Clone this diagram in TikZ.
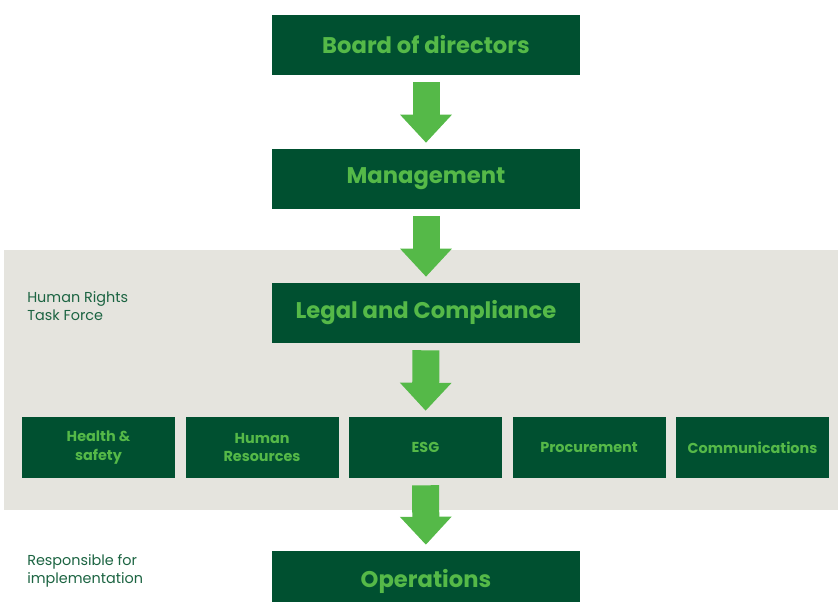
\documentclass[tikz,border=0pt]{standalone}
\usepackage{fontspec}
\setmainfont{Poppins}
\usepackage{tikz}
\usetikzlibrary{arrows.meta}

\definecolor{darkgreen}{RGB}{0,80,48}
\definecolor{lightgreen}{RGB}{85,185,72}
\definecolor{panelgrey}{RGB}{229,228,222}
\definecolor{labelgreen}{RGB}{28,100,66}

% sizes are in pt, one pixel of the layout is 0.75pt
\tikzset{
  mainbox/.style={fill=darkgreen, text=lightgreen, minimum width=231pt, minimum height=45pt,
    inner sep=0pt, font=\fontsize{17}{20}\selectfont\bfseries},
  deptbox/.style={fill=darkgreen, text=lightgreen, minimum width=114.75pt, minimum height=45.75pt,
    inner sep=0pt, align=center, font=\fontsize{10.8}{14.2}\selectfont\bfseries},
  sidelabel/.style={anchor=west, align=left, text=labelgreen, inner sep=0pt,
    font=\fontsize{10.8}{13.5}\selectfont},
  bigarrow/.style={draw=lightgreen, line width=20.25pt, line cap=butt,
    -{Triangle[width=37.5pt, length=21pt]}, shorten <=5.25pt, shorten >=4.5pt}
}

\begin{document}
\begin{tikzpicture}[x=0.75pt, y=-0.75pt]
    \def \mid {426}
    \def \gap {163.5} % distance between department boxes
    \useasboundingbox (0,0) rectangle (838,602);
    \clip (0,0) rectangle (838,602);

    % task force panel
    \fill[panelgrey] (4,250) rectangle (838,510);

    \node[mainbox] (board) at (\mid,45) {Board of directors};
    \node[mainbox] (mgmt) at (\mid,179) {Management};
    \node[mainbox] (legal) at (\mid,313) {Legal and Compliance};
    \node[mainbox] (ops) at (\mid,581) {Operations};

    \foreach \i/\txt in {1/{Health \&\\safety}, 2/{Human\\Resources}, 3/{ESG},
                         4/{Procurement}, 5/{Communications}}
    {
      \node[deptbox] (dept\i) at ({425.5 + (\i-3)*\gap},447.5) {\txt};
    }

    \node[sidelabel] (taskforce) at (27,306) {Human Rights\\Task Force};
    \node[sidelabel] (responsible) at (27,571) {Responsible for\\implementation};

    \draw[bigarrow] (board) -- (mgmt);
    \draw[bigarrow] (mgmt) -- (legal);
    \draw[bigarrow] (legal) -- (dept3);
    \draw[bigarrow] (dept3) -- (ops);
\end{tikzpicture}
\end{document}
